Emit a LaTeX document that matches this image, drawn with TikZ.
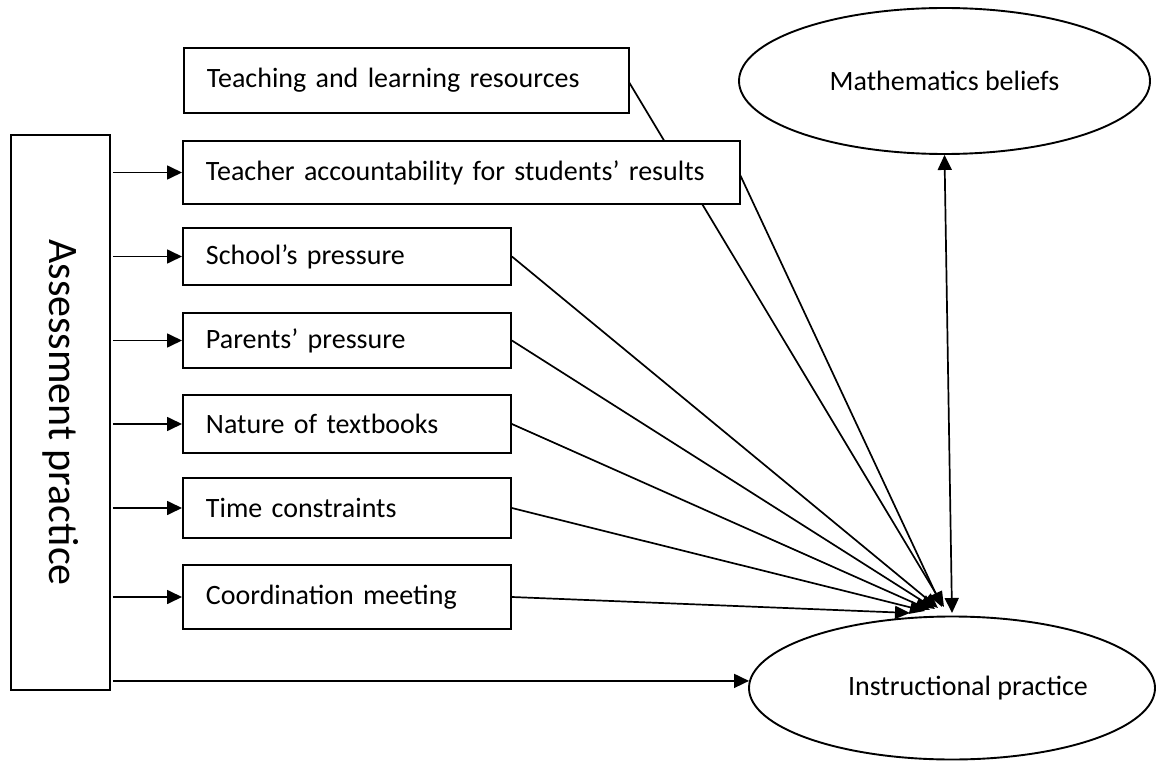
\documentclass[tikz,border=0pt]{standalone}
\usepackage{fontspec}
\setmainfont{Carlito}
\usetikzlibrary{arrows.meta,shapes.geometric}

\tikzset{every picture/.style={line width=1.9pt}}
\tikzset{
  factor/.style={draw, fill=white, anchor=west, inner xsep=23pt, inner ysep=0pt,
    text width=#1, align=left, minimum height=58pt, font=\fontsize{28}{34}\selectfont},
  bubble/.style={draw, ellipse, inner sep=0pt, font=\fontsize{28}{34}\selectfont},
  arr/.style={-{Triangle[length=15pt,width=14pt]}, line width=1.7pt},
  link/.style={-{Triangle[length=15pt,width=13pt]}, line width=1.7pt},
}

\begin{document}
\begin{tikzpicture}[x=1pt,y=1pt,yscale=-1,xscale=1]
\useasboundingbox (0,0) rectangle (1162,762);

% ellipses
\node[bubble, minimum width=411pt, minimum height=146pt] (beliefs) at (944.5,81) {Mathematics beliefs};
\node[bubble, minimum width=406pt, minimum height=143pt] (instr) at (952,688) {};
\node[font=\fontsize{28}{34}\selectfont] (instrtext) at (968,688) {Instructional practice};

% arrow ends on top of Instructional practice
\coordinate (endG) at (910,613);
\coordinate (endF) at (925,611);
\coordinate (endE) at (930,610);
\coordinate (endD) at (935,609);
\coordinate (endC) at (938,608);
\coordinate (endB) at (942,607);
\coordinate (endA) at (944,607);
\coordinate (endM) at (952,613);

% lines behind the boxes
\draw[link] (628,80.5) coordinate (resA) -- (endA);
\draw[link] (739,172.5) coordinate (accB) -- (endB);

% factor boxes
\node[factor=399pt, minimum height=65pt] (resources) at (183,80.5) {Teaching and learning resources};
\node[factor=511pt, minimum height=63pt] (account) at (182,172.5) {Teacher accountability for students’ results};
\node[factor=282pt, minimum height=57pt] (school) at (182,256.5) {School’s pressure};
\node[factor=282pt, minimum height=55pt] (parents) at (182,340.5) {Parents’ pressure};
\node[factor=282pt, minimum height=58pt] (textbooks) at (182,424) {Nature of textbooks};
\node[factor=282pt, minimum height=60pt] (time) at (182,508) {Time constraints};
\node[factor=282pt, minimum height=64pt] (meeting) at (182,597) {Coordination meeting};

% Assessment practice
\node[draw, rotate=-90, minimum width=555pt, minimum height=99pt, inner sep=0pt,
  font=\fontsize{42}{50}\selectfont] (assess) at (60.5,412.5) {Assessment practice};

% arrows out of Assessment practice
\draw[arr, shorten <=2pt] (assess.north |- account.west) -- (account.west);
\draw[arr, shorten <=2pt] (assess.north |- school.west) -- (school.west);
\draw[arr, shorten <=2pt] (assess.north |- parents.west) -- (parents.west);
\draw[arr, shorten <=2pt] (assess.north |- textbooks.west) -- (textbooks.west);
\draw[arr, shorten <=2pt] (assess.north |- time.west) -- (time.west);
\draw[arr, shorten <=2pt] (assess.north |- meeting.west) -- (meeting.west);
\draw[arr, shorten <=2pt] (assess.north |- instr.178) -- (instr.178);

% arrows into Instructional practice
\draw[link] (school.east) -- (endC);
\draw[link] (parents.east) -- (endD);
\draw[link] (textbooks.east) -- (endE);
\draw[link] (time.east) -- (endF);
\draw[link] (meeting.east) -- (endG);
\draw[{Triangle[length=15pt,width=14pt]}-{Triangle[length=15pt,width=14pt]}, line width=1.7pt] (beliefs.south) -- (endM);

\end{tikzpicture}
\end{document}
